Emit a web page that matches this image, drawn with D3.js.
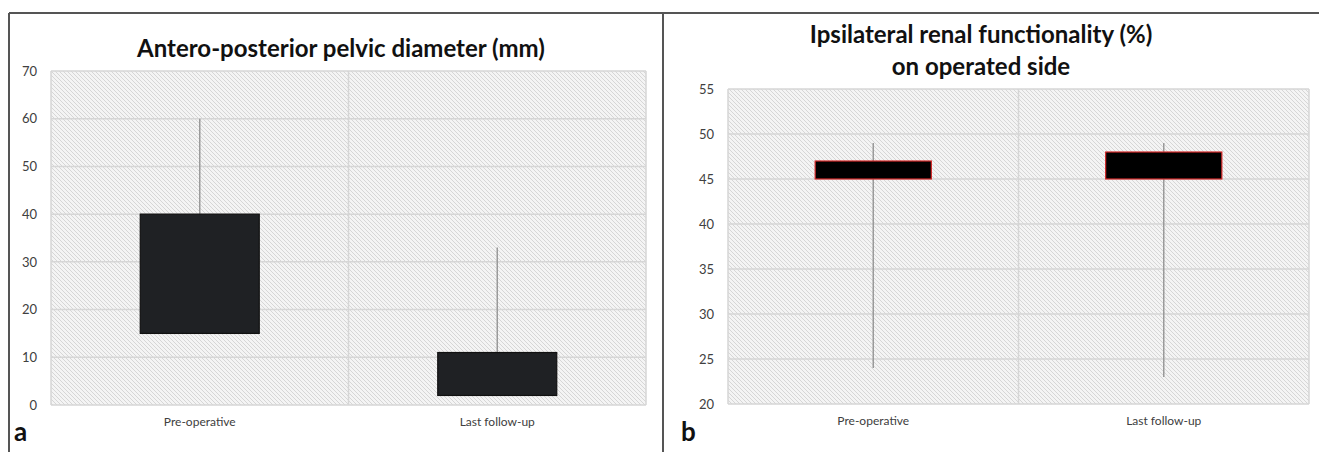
<!DOCTYPE html>
<html>
<head>
<meta charset="utf-8">
<script src="https://cdn.jsdelivr.net/npm/d3@7"></script>
<style>
  body { margin: 0; background: #fff; }
  svg { display: block; font-family: Lato, "Open Sans", sans-serif; }
</style>
</head>
<body>
<svg id="chart"></svg>
<script>
var categories = ["Pre-operative", "Last follow-up"]

// panel a: antero-posterior pelvic diameter (mm)
var apdLow = [15, 2]
var apdHigh = [40, 11]
var apdMin = [15, 2]
var apdMax = [60, 33]
var apdTicks = [0, 10, 20, 30, 40, 50, 60, 70]

// panel b: ipsilateral renal functionality (%)
var rfLow = [45, 45]
var rfHigh = [47, 48]
var rfMin = [24, 23]
var rfMax = [49, 49]
var rfTicks = [20, 25, 30, 35, 40, 45, 50, 55]

var width = 1319
var height = 452

var svg = d3.select("#chart").attr("width", width).attr("height", height)

// hatched plot background
var pat = svg.append("defs").append("pattern")
	.attr("id", "hatch")
	.attr("patternUnits", "userSpaceOnUse")
	.attr("width", 4)
	.attr("height", 4)
pat.append("rect").attr("width", 4).attr("height", 4).attr("fill", "#f4f4f4")
pat.append("path")
	.attr("d", "M-1,-1 L5,5 M-1,3 L1,5 M3,-1 L5,1")
	.attr("stroke", "#d6d6d6")
	.attr("stroke-width", 1)

// outer frame
svg.append("line").attr("x1", 9).attr("x2", width).attr("y1", 13).attr("y2", 13)
	.attr("stroke", "#555").attr("stroke-width", 2)
svg.append("line").attr("x1", 9).attr("x2", 9).attr("y1", 13).attr("y2", height)
	.attr("stroke", "#555").attr("stroke-width", 2)
svg.append("line").attr("x1", 663).attr("x2", 663).attr("y1", 13).attr("y2", height)
	.attr("stroke", "#555").attr("stroke-width", 2)

function drawPanel(opt) {
	var x = d3.scaleBand().domain(categories).range([opt.left, opt.right]).padding(0)
	var y = d3.scaleLinear().domain(opt.domain).range([opt.bottom, opt.top])
	var g = svg.append("g")

	g.append("rect")
		.attr("x", opt.left).attr("y", opt.top)
		.attr("width", opt.right - opt.left).attr("height", opt.bottom - opt.top)
		.attr("fill", "url(#hatch)")

	// horizontal gridlines
	g.selectAll(".grid").data(opt.ticks).enter().append("line")
		.attr("x1", opt.left).attr("x2", opt.right)
		.attr("y1", d => y(d)).attr("y2", d => y(d))
		.attr("stroke", "#d6d6d6").attr("stroke-width", 1.5)

	// vertical category dividers
	var edges = [opt.left].concat(categories.map(c => x(c) + x.bandwidth()))
	g.selectAll(".vgrid").data(edges).enter().append("line")
		.attr("x1", d => d).attr("x2", d => d)
		.attr("y1", opt.top).attr("y2", opt.bottom)
		.attr("stroke", "#d6d6d6").attr("stroke-width", 1.5)

	var yAxis = g.append("g")
		.attr("transform", "translate(" + opt.left + ",0)")
		.call(d3.axisLeft(y).tickValues(opt.ticks).tickSize(0).tickPadding(opt.pad))
		.attr("font-family", null)
	yAxis.select(".domain").remove()
	yAxis.selectAll("text").attr("fill", "#404040").style("font-size", "13px")

	var xAxis = g.append("g")
		.attr("transform", "translate(0," + opt.bottom + ")")
		.call(d3.axisBottom(x).tickSize(0).tickPadding(12))
		.attr("font-family", null)
	xAxis.select(".domain").remove()
	xAxis.selectAll("text").attr("fill", "#404040").style("font-size", "12px")

	var cx = c => x(c) + x.bandwidth() / 2
	var bw = x.bandwidth() * 0.4

	// whiskers
	g.selectAll(".whisker").data(categories).enter().append("line")
		.attr("x1", cx).attr("x2", cx)
		.attr("y1", (d, i) => y(opt.max[i]))
		.attr("y2", (d, i) => y(opt.min[i]))
		.attr("stroke", "#9a9a9a").attr("stroke-width", 1.5)

	// boxes
	g.selectAll(".box").data(categories).enter().append("rect")
		.attr("x", d => cx(d) - bw / 2)
		.attr("width", bw)
		.attr("y", (d, i) => y(opt.high[i]))
		.attr("height", (d, i) => y(opt.low[i]) - y(opt.high[i]))
		.attr("fill", opt.fill)
		.attr("stroke", opt.stroke)
		.attr("stroke-width", 1.2)

	// title
	var title = g.append("text")
		.attr("x", opt.titleX)
		.attr("text-anchor", "middle")
		.attr("font-weight", "bold")
		.style("font-size", "24px")
		.attr("fill", "#111")
	opt.title.forEach(function (t, i) {
		title.append("tspan").attr("x", opt.titleX).attr("y", opt.titleY + i * 32).text(t)
	})

	g.append("text")
		.attr("x", opt.letterX).attr("y", 441)
		.attr("font-weight", "bold")
		.style("font-size", "26px")
		.attr("fill", "#111")
		.text(opt.letter)
}

drawPanel({
	left: 51, right: 646, top: 71, bottom: 405,
	domain: [0, 70], ticks: apdTicks, pad: 14,
	low: apdLow, high: apdHigh, min: apdMin, max: apdMax,
	fill: "#1f2124", stroke: "#111",
	title: ["Antero-posterior pelvic diameter (mm)"], titleX: 341, titleY: 57,
	letter: "a", letterX: 14
})

drawPanel({
	left: 728, right: 1309, top: 89, bottom: 404,
	domain: [20, 55], ticks: rfTicks, pad: 14,
	low: rfLow, high: rfHigh, min: rfMin, max: rfMax,
	fill: "#000", stroke: "#d42a2a",
	title: ["Ipsilateral renal functionality (%)", "on operated side"], titleX: 981, titleY: 43,
	letter: "b", letterX: 681
})
</script>
</body>
</html>
